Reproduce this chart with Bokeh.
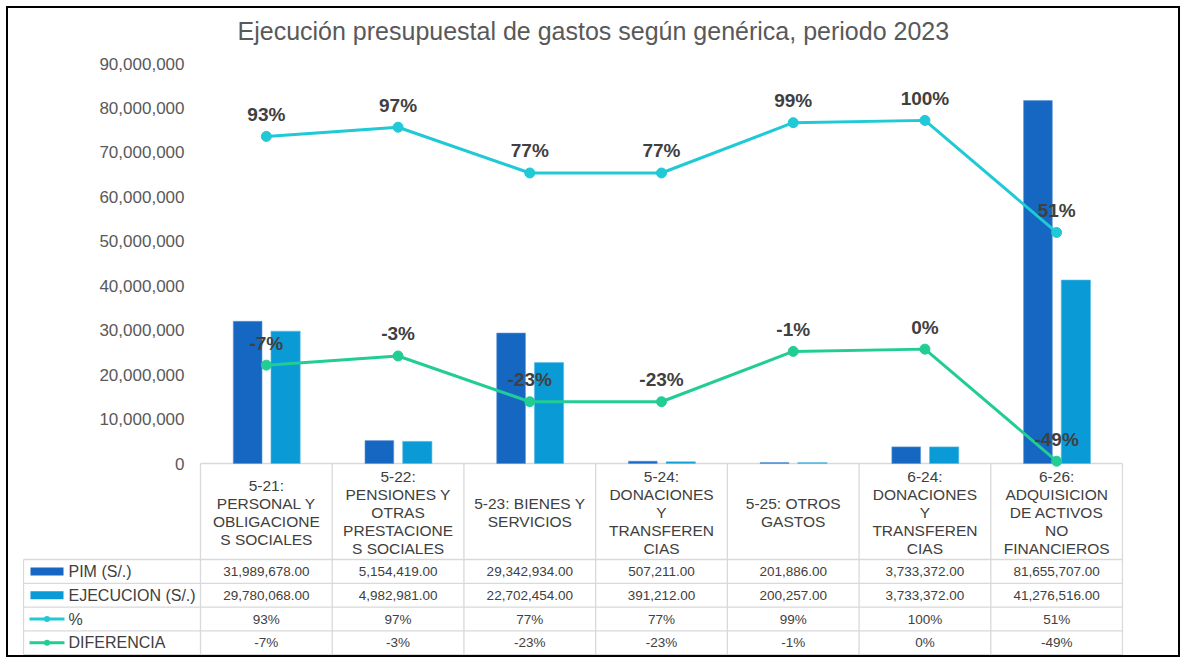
from bokeh.plotting import figure
from bokeh.models import (Range1d, LinearAxis, FixedTicker, NumeralTickFormatter,
                          PrintfTickFormatter, ColumnDataSource, Title)
from bokeh.layouts import column
from bokeh.embed import file_html
from bokeh.resources import INLINE
from bokeh.core.properties import value
from bokeh.transform import dodge

# ---------------- data ----------------
codes = ["5-21", "5-22", "5-23", "5-24", "5-25", "6-24", "6-26"]
header_lines = [
    ["5-21:", "PERSONAL Y", "OBLIGACIONE", "S SOCIALES"],
    ["5-22:", "PENSIONES Y", "OTRAS", "PRESTACIONE", "S SOCIALES"],
    ["5-23: BIENES Y", "SERVICIOS"],
    ["5-24:", "DONACIONES", "Y", "TRANSFEREN", "CIAS"],
    ["5-25: OTROS", "GASTOS"],
    ["6-24:", "DONACIONES", "Y", "TRANSFEREN", "CIAS"],
    ["6-26:", "ADQUISICION", "DE ACTIVOS", "NO", "FINANCIEROS"],
]
pim = [31989678.00, 5154419.00, 29342934.00, 507211.00, 201886.00, 3733372.00, 81655707.00]
ejecucion = [29780068.00, 4982981.00, 22702454.00, 391212.00, 200257.00, 3733372.00, 41276516.00]
pct = [93, 97, 77, 77, 99, 100, 51]
diferencia = [-7, -3, -23, -23, -1, 0, -49]
series_names = ["PIM (S/.)", "EJECUCION (S/.)", "%", "DIFERENCIA"]
left_ticks = [0, 10000000, 20000000, 30000000, 40000000, 50000000, 60000000, 70000000, 80000000, 90000000]
right_ticks = [-50, -30, -10, 10, 30, 50, 70, 90, 110]

# ---------------- style / layout constants ----------------
FONT = "Liberation Sans"
C_PIM = "#1567C2"
C_EJE = "#0A9AD6"
C_PCT = "#1FC9D6"
C_DIF = "#22CD95"
GRID = "#D9D9D9"
TXT = "#404040"
AX = "#595959"

W, H = 1170, 647
PX = 922 / 7.0                 # px per category column
n = len(codes)
xc = [i + 0.5 for i in range(n)]

L_PER_PX = 90e6 / 400.0        # left axis units per pixel
R_PER_PX = 160 / 366.0         # right axis units per pixel
ZERO = 463                     # page y of the zero line


def py(page_y):
    return (ZERO - page_y) * L_PER_PX


def pr(page_y):
    return -50 + (ZERO - page_y) * R_PER_PX


def pxx(page_x):
    return (page_x - 200) / PX


FRAME_TOP, FRAME_BOT = 50, 655
p = figure(width=W, height=H, title=None,
           x_range=Range1d(pxx(22), 7 + 1 / PX), y_range=Range1d(py(FRAME_BOT), py(FRAME_TOP)),
           output_backend="svg", toolbar_location=None,
           x_axis_location=None, y_axis_location=None,
           min_border_left=14, min_border_right=55, min_border_top=FRAME_TOP - 8, min_border_bottom=0,
           outline_line_color=None)
p.grid.visible = False
p.extra_y_ranges = {"pct": Range1d(pr(FRAME_BOT), pr(FRAME_TOP))}

yl = LinearAxis(ticker=FixedTicker(ticks=left_ticks), formatter=NumeralTickFormatter(format="0,0"),
                fixed_location=0)
yr = LinearAxis(y_range_name="pct", ticker=FixedTicker(ticks=right_ticks),
                formatter=PrintfTickFormatter(format="%d%%"), fixed_location=7)
for ax, so, fs in ((yl, 16, "17px"), (yr, 15, "16px")):
    ax.axis_line_color = None
    ax.major_tick_line_color = None
    ax.minor_tick_line_color = None
    ax.major_tick_out = 0
    ax.major_tick_in = 0
    ax.major_label_standoff = so
    ax.major_label_text_font = FONT
    ax.major_label_text_font_size = fs
    ax.major_label_text_color = AX
p.add_layout(yl, "left")
p.add_layout(yr, "right")

p.add_layout(Title(text="Ejecución presupuestal de gastos según genérica, periodo 2023",
                   align="left", offset=215, standoff=12, text_font=FONT, text_font_size="25px",
                   text_font_style="normal", text_color=AX), "above")

src = ColumnDataSource(dict(
    xc=xc, pim=pim, eje=ejecucion, pct=pct, dif=diferencia,
    pct_lbl=[f"{v}%" for v in pct], dif_lbl=[f"{v}%" for v in diferencia]))

# ---------------- table grid ----------------
rows_b = [559, 582.8, 606.6, 630.4, 654.2]
x_lb = pxx(23)
p.segment(x0=[0], y0=[0], x1=[7], y1=[0], line_color=GRID, line_width=1.3)
p.segment(x0=[x_lb] * 5, y0=[py(v) for v in rows_b], x1=[7] * 5, y1=[py(v) for v in rows_b],
          line_color=GRID, line_width=1.3)
p.segment(x0=list(range(n + 1)), y0=[0] * (n + 1), x1=list(range(n + 1)),
          y1=[py(rows_b[-1])] * (n + 1), line_color=GRID, line_width=1.3)
p.segment(x0=[x_lb], y0=[py(rows_b[0])], x1=[x_lb], y1=[py(rows_b[-1])],
          line_color=GRID, line_width=1.3)

# ---------------- bars ----------------
p.vbar(x=dodge("xc", -0.142, range=p.x_range), top="pim", bottom=0, width=0.218,
       source=src, fill_color=C_PIM, line_color="#5C93D6", line_width=0.6)
p.vbar(x=dodge("xc", 0.146, range=p.x_range), top="eje", bottom=0, width=0.222,
       source=src, fill_color=C_EJE, line_color="#5CBCE6", line_width=0.6)

# ---------------- lines ----------------
p.line("xc", "pct", source=src, y_range_name="pct", line_color=C_PCT, line_width=3)
p.scatter("xc", "pct", source=src, y_range_name="pct", size=10, fill_color=C_PCT, line_color=C_PCT)
p.line("xc", "dif", source=src, y_range_name="pct", line_color=C_DIF, line_width=3)
p.scatter("xc", "dif", source=src, y_range_name="pct", size=10, fill_color=C_DIF, line_color=C_DIF)

for col in ("pct", "dif"):
    p.text("xc", col, text=col + "_lbl", source=src, y_range_name="pct",
           text_align="center", text_baseline="middle", y_offset=-22,
           text_font=value(FONT), text_font_size="19px", text_font_style="bold",
           text_color=TXT)

# ---------------- header text ----------------
hx, hy, hoff, htxt = [], [], [], []
for i, lines in enumerate(header_lines):
    m = len(lines)
    for j, t in enumerate(lines):
        hx.append(xc[i]); hy.append(py(512))
        hoff.append((j - (m - 1) / 2.0) * 17.8)
        htxt.append(t)
p.text(x=hx, y=hy, text=htxt, y_offset=hoff, text_align="center", text_baseline="middle",
       text_font=value(FONT), text_font_size="15.5px", text_color=TXT)

# ---------------- table values ----------------
row_y = [py((rows_b[k] + rows_b[k + 1]) / 2) for k in range(4)]
row_vals = [
    [f"{v:,.2f}" for v in pim],
    [f"{v:,.2f}" for v in ejecucion],
    [f"{v}%" for v in pct],
    [f"{v}%" for v in diferencia],
]
tx, ty, tt = [], [], []
for r, vals in enumerate(row_vals):
    for i, t in enumerate(vals):
        tx.append(xc[i]); ty.append(row_y[r]); tt.append(t)
p.text(x=tx, y=ty, text=tt, text_align="center", text_baseline="middle",
       text_font=value(FONT), text_font_size="13.5px", text_color=TXT)

# ---------------- series labels + keys ----------------
sw_c = pxx(46.5)
p.rect(x=[sw_c, sw_c], y=row_y[:2], width=33 / PX, height=8, height_units="screen",
       fill_color=[C_PIM, C_EJE], line_color=None)
p.segment(x0=[pxx(29)] * 2, y0=row_y[2:], x1=[pxx(64)] * 2, y1=row_y[2:],
          line_color=[C_PCT, C_DIF], line_width=3)
p.scatter(x=[sw_c, sw_c], y=row_y[2:], size=6, fill_color=[C_PCT, C_DIF], line_color=None)
p.text(x=[pxx(68)] * 4, y=row_y, text=series_names, text_align="left",
       text_baseline="middle", text_font=value(FONT), text_font_size="16px", text_color=TXT)

layout = column(p, styles={"border": "2px solid #000000", "margin-left": "6px", "margin-top": "6px"})
open("out.html", "w").write(file_html(layout, INLINE))
